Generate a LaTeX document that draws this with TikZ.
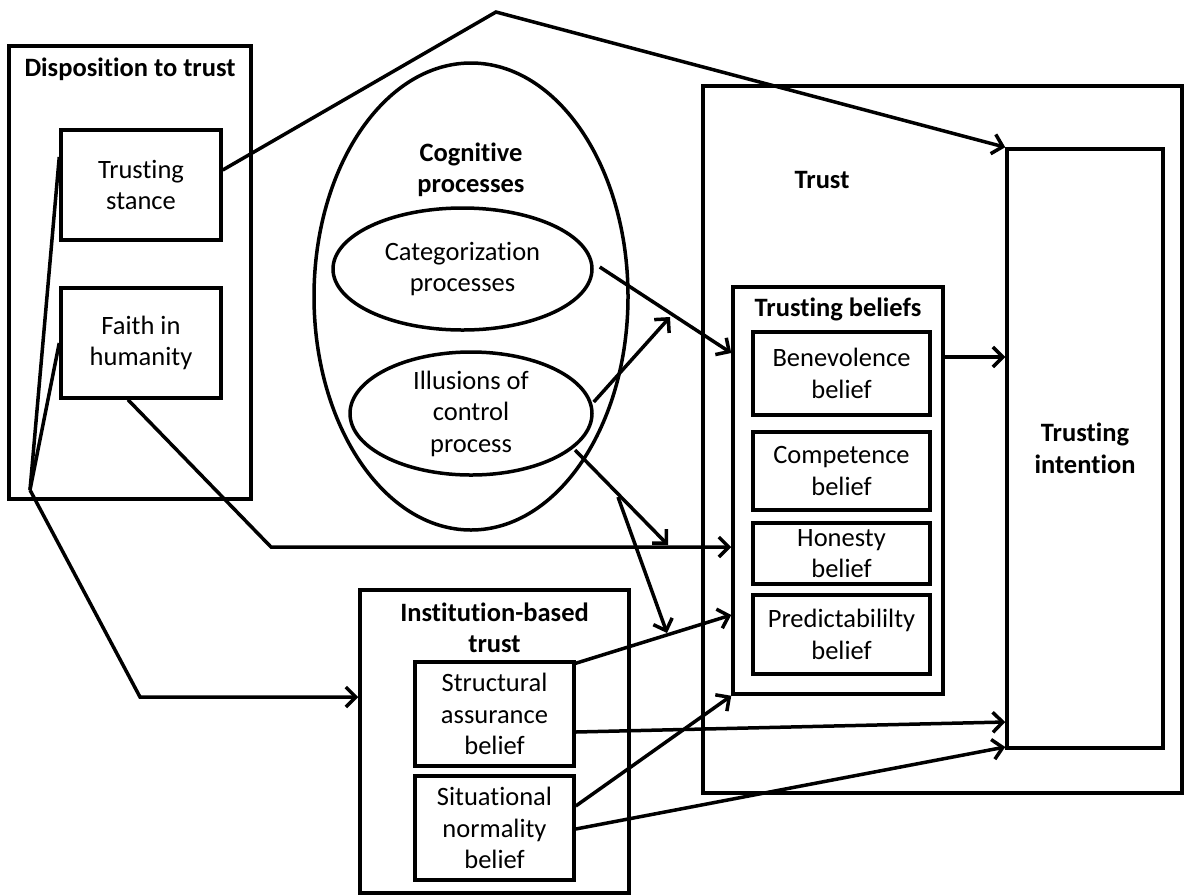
\documentclass[tikz,border=0pt]{standalone}
\usepackage{fontspec}
\setmainfont[Ligatures=NoCommon]{Carlito}
\usetikzlibrary{arrows.meta,shapes.geometric,calc}
\begin{document}
\begin{tikzpicture}[x=1pt,y=-1pt,
  every node/.style={font=\fontsize{26.5}{31.5}\selectfont, align=center, inner sep=0pt},
  box/.style={draw, line width=3.5pt, rectangle},
  oval/.style={draw, line width=3.5pt, ellipse},
  ttl/.style={font=\fontsize{26.5}{31.5}\selectfont\bfseries},
  conn/.style={line width=3.5pt},
  arr/.style={conn, -{Straight Barb[length=10pt,width=20pt]}}
]
\useasboundingbox (0,0) rectangle (1185,895);

% Disposition to trust
\node[box, minimum width=242pt, minimum height=453pt] (disp) at (130,272.5) {};
\node[ttl] (dispt) at (130,69) {Disposition to trust};
\node[box, minimum width=160pt, minimum height=110pt] (stance) at (141,185) {Trusting\\stance};
\node[box, minimum width=160pt, minimum height=110pt] (faith) at (141,343) {Faith in\\humanity};

% Cognitive processes
\node[oval, minimum width=314pt, minimum height=467pt] (cog) at (471,296.5) {};
\node[ttl] (cogt) at (471,170) {Cognitive\\processes};
\node[oval, minimum width=259pt, minimum height=122pt] (cat) at (462.5,269) {Categorization\\processes};
\node[oval, minimum width=242pt, minimum height=123pt] (ill) at (471,413.5) {Illusions of\\control\\process};

% Trust
\node[box, minimum width=479pt, minimum height=707pt] (trust) at (942.5,439.5) {};
\node[ttl] (trustt) at (822,180) {Trust};
\node[box, ttl, minimum width=156pt, minimum height=599pt] (ti) at (1085,448.5) {Trusting\\intention};
\node[box, minimum width=210pt, minimum height=407pt] (tb) at (838,490.5) {};
\node[ttl] (tbt) at (838,309) {Trusting beliefs};
\node[box, minimum width=177pt, minimum height=83pt] (ben) at (841.5,373.5) {Benevolence\\belief};
\node[box, minimum width=177pt, minimum height=78pt] (comp) at (841.5,471) {Competence\\belief};
\node[box, minimum width=177pt, minimum height=61pt] (hon) at (841.5,553.5) {Honesty\\belief};
\node[box, minimum width=177pt, minimum height=79pt] (pred) at (841.5,634.5) {Predictabililty\\belief};

% Institution-based trust
\node[box, minimum width=269pt, minimum height=303pt] (inst) at (494.5,741.5) {};
\node[ttl] (instt) at (494.5,628) {Institution-based\\trust};
\node[box, minimum width=159pt, minimum height=104pt] (str) at (494.5,714) {Structural\\assurance\\belief};
\node[box, minimum width=159pt, minimum height=104pt] (sit) at (494.5,828) {Situational\\normality\\belief};

% helper points
\coordinate (fan) at (30,490);
\coordinate (apex) at (496,12);
\coordinate (fb) at (271,547);
\coordinate (ib) at (140,697);
\coordinate (ilend) at (670,317);
\coordinate (ilA) at (575,450);
\coordinate (br) at (618,497);
\coordinate (ilB) at (668,545);
\coordinate (ilC) at (667,633);

% connectors
\draw[arr] ([yshift=15pt]stance.east) -- (apex) -- (ti.north west);
\draw[conn] (fan) -- ([yshift=28pt]stance.west);
\draw[conn] (fan) -- (faith.west);
\draw[arr] (fan) -- (ib) -- (ib -| inst.west);
\draw[arr] ([xshift=-13pt]faith.south) -- (fb) -- (fb -| tb.west);
\draw[arr] ([xshift=6pt,yshift=2pt]cat.east) -- ([yshift=137.5pt]tb.west);
\draw[arr] ([yshift=11.5pt]ill.east) -- (ilend);
\draw[arr] (ilA) -- (ilB);
\draw[arr] (br) -- (ilC);
\draw[arr] ([yshift=-3pt]str.north east) -- ([yshift=-124.5pt]tb.west);
\draw[arr] ([yshift=-18pt]str.east) -- ([yshift=-273.5pt]ti.west);
\draw[arr] ([yshift=22pt]sit.east) -- (tb.south west);
\draw[arr] ([yshift=-1pt]sit.east) -- ([yshift=-298.5pt]ti.west);
\draw[arr] ([yshift=133.5pt]tb.east) -- ([yshift=133.5pt]tb.east -| ti.west);
\end{tikzpicture}
\end{document}
